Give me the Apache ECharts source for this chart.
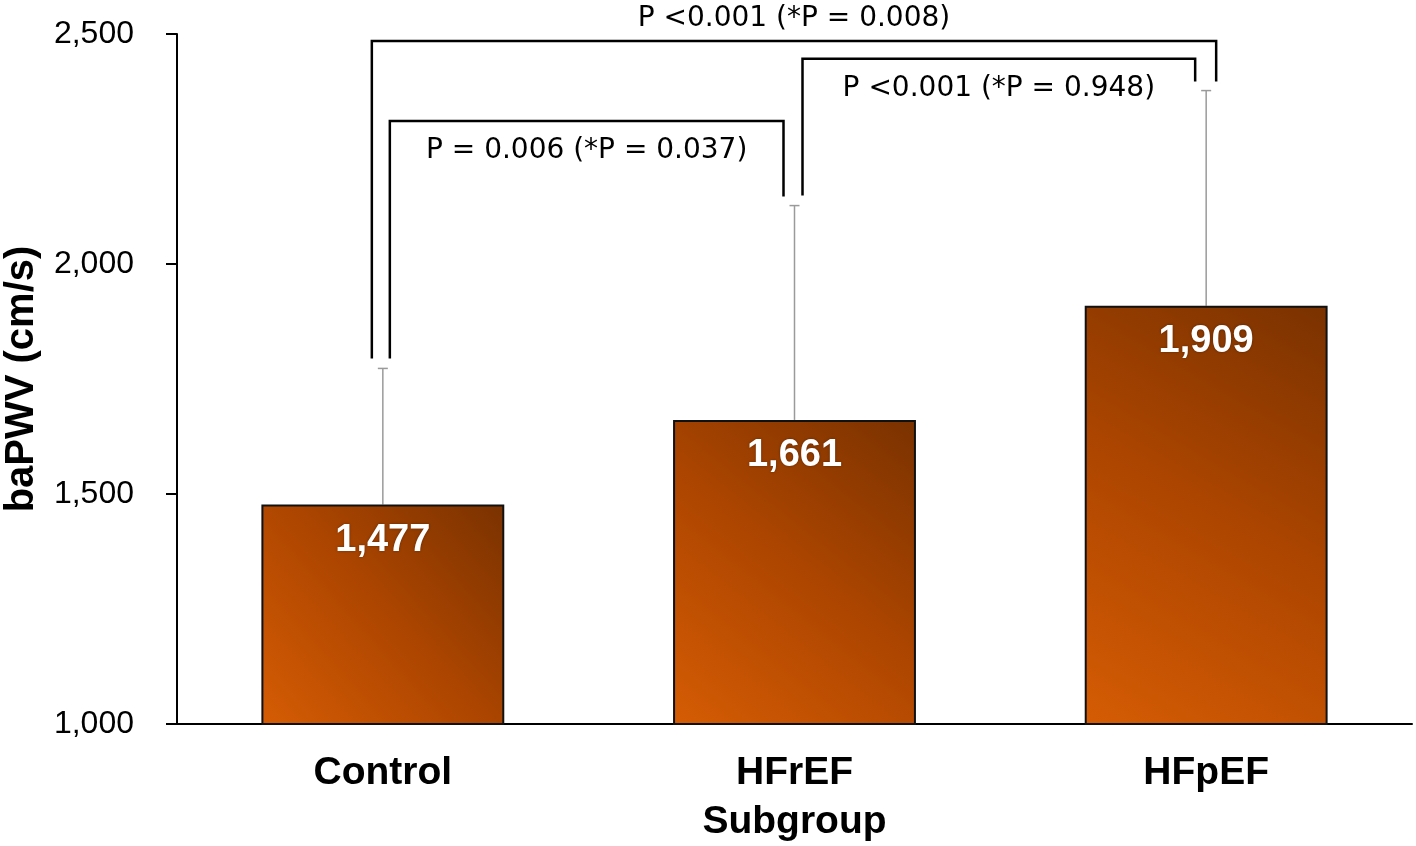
<!DOCTYPE html>
<html><head><meta charset="utf-8">
<script src="https://cdn.jsdelivr.net/npm/echarts@6/dist/echarts.min.js"></script>
<style>html,body{margin:0;padding:0;background:#fff}#c{width:1416px;height:846px}</style>
</head><body><div id="c"></div>
<script>
// ---- data ----
const categories = ['Control', 'HFrEF\nSubgroup', 'HFpEF'];
const means = [1477, 1661, 1909];
const errorTops = [1773, 2127, 2377];
const yTicks = [1000, 1500, 2000, 2500];
const bracketFrom = [0, 1, 0];
const bracketTo = [1, 2, 2];
const bracketLevel = [2311, 2446, 2485];
const bracketText = ['P = 0.006 (*P = 0.037)', 'P <0.001 (*P = 0.948)', 'P <0.001 (*P = 0.008)'];

// ---- styling (pixel offsets for bracket legs, label placement) ----
const legOffsets = [[7, -11], [8, -11], [-11, 10]];
const labelBelow = [true, true, false];
const pFont = '"DejaVu Sans", sans-serif';
const mainFont = '"Liberation Sans", Arial, sans-serif';

const chart = echarts.init(document.getElementById('c'), null, {renderer: 'canvas'});

const option = {
  animation: false,
  backgroundColor: '#ffffff',
  grid: {left: 177, right: 4, top: 34, bottom: 122, containLabel: false, outerBoundsMode: 'none'},
  xAxis: {
    type: 'category',
    data: categories,
    axisLine: {lineStyle: {color: '#000', width: 2}},
    axisTick: {show: false},
    axisLabel: {
      color: '#000', fontSize: 39, fontWeight: 'bold', fontFamily: mainFont,
      lineHeight: 49, margin: 25
    }
  },
  yAxis: {
    type: 'value',
    min: yTicks[0], max: yTicks[yTicks.length - 1], interval: 500,
    name: 'baPWV (cm/s)',
    nameLocation: 'middle',
    nameGap: 135,
    nameTextStyle: {color: '#000', fontSize: 40, fontWeight: 'bold', fontFamily: mainFont},
    axisLine: {show: true, lineStyle: {color: '#000', width: 2}},
    axisTick: {show: true, length: 11, lineStyle: {color: '#000', width: 2}},
    splitLine: {show: false},
    axisLabel: {
      color: '#000', fontSize: 32, fontFamily: mainFont, margin: 43,
      formatter: v => v.toLocaleString('en-US')
    }
  },
  series: [
    {
      type: 'bar',
      data: means,
      barWidth: '59%',
      itemStyle: {
        color: new echarts.graphic.LinearGradient(0, 1, 1, 0, [
          {offset: 0, color: '#D55C04'},
          {offset: 0.5, color: '#AE4600'},
          {offset: 1, color: '#7A3200'}
        ]),
        borderColor: '#111',
        borderWidth: 2
      },
      label: {
        show: true,
        position: 'insideTop',
        distance: 17,
        color: '#fff',
        fontSize: 38,
        fontWeight: 'bold',
        fontFamily: mainFont,
        textShadowColor: 'rgba(0,0,0,0.35)',
        textShadowBlur: 3,
        formatter: p => p.value.toLocaleString('en-US')
      },
      z: 2
    },
    {
      type: 'custom',
      data: errorTops.map((v, i) => [i, means[i], v]),
      renderItem: (params, api) => {
        const i = api.value(0);
        const base = api.coord([i, api.value(1)]);
        const top = api.coord([i, api.value(2)]);
        const cap = 5;
        return {
          type: 'group',
          children: [
            {type: 'line', shape: {x1: base[0], y1: base[1], x2: top[0], y2: top[1]}, style: {stroke: '#9a9a9a', lineWidth: 1.5}},
            {type: 'line', shape: {x1: top[0] - cap, y1: top[1], x2: top[0] + cap, y2: top[1]}, style: {stroke: '#9a9a9a', lineWidth: 1.5}}
          ]
        };
      },
      z: 1
    },
    {
      type: 'custom',
      data: bracketFrom.map((f, i) => [f, bracketTo[i], bracketLevel[i]]),
      renderItem: (params, api) => {
        const k = params.dataIndex;
        const a = api.value(0), b = api.value(1), lvl = api.value(2);
        const yTop = api.coord([a, lvl])[1];
        const xa = api.coord([a, lvl])[0] + legOffsets[k][0];
        const xb = api.coord([b, lvl])[0] + legOffsets[k][1];
        const ya = api.coord([a, errorTops[a]])[1] - 10;
        const yb = api.coord([b, errorTops[b]])[1] - 9;
        const ty = labelBelow[k] ? yTop + 30 : yTop - 22;
        return {
          type: 'group',
          children: [
            {type: 'polyline', shape: {points: [[xa, ya], [xa, yTop], [xb, yTop], [xb, yb]]},
             style: {stroke: '#000', lineWidth: 2.5, fill: null}},
            {type: 'text', style: {text: bracketText[k], x: (xa + xb) / 2, y: ty, align: 'center', verticalAlign: 'middle',
              fontSize: 28, fontFamily: pFont, fill: '#000'}}
          ]
        };
      },
      z: 3
    }
  ]
};
chart.setOption(option);
</script>
</body></html>
